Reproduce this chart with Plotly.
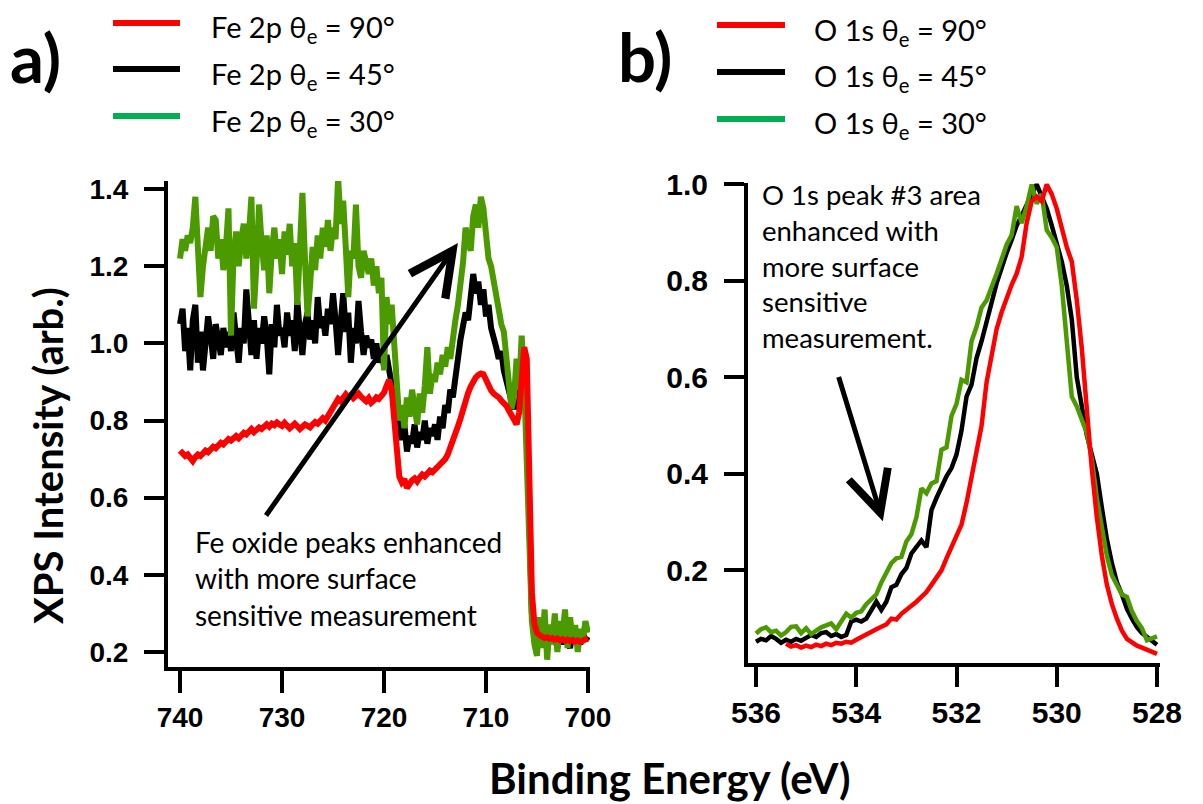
import plotly.graph_objects as go

W, H = 1203, 804

# ---------------- Panel a: Fe 2p (740 -> 700 eV, 0.25 eV step) ----------------
fe_start, fe_step = 740.0, 0.25
fe_90 = [
    0.722, 0.715, 0.708, 0.712, 0.700, 0.695, 0.705, 0.712, 0.708, 0.716, 0.722, 0.718, 0.726, 0.732, 0.728, 0.735, 0.742, 0.738, 0.746, 0.752,
    0.748, 0.755, 0.760, 0.754, 0.762, 0.768, 0.764, 0.772, 0.778, 0.770, 0.776, 0.782, 0.778, 0.786, 0.790, 0.784, 0.792, 0.788, 0.795, 0.790,
    0.786, 0.794, 0.788, 0.780, 0.786, 0.792, 0.785, 0.778, 0.784, 0.790, 0.786, 0.782, 0.790, 0.796, 0.792, 0.800, 0.806, 0.800, 0.812, 0.826,
    0.840, 0.848, 0.856, 0.850, 0.862, 0.868, 0.860, 0.866, 0.858, 0.864, 0.870, 0.862, 0.856, 0.850, 0.858, 0.846, 0.852, 0.860, 0.856, 0.866,
    0.872, 0.890, 0.905, 0.880, 0.800, 0.700, 0.655, 0.640, 0.648, 0.625, 0.638, 0.645, 0.650, 0.642, 0.652, 0.660, 0.655, 0.664, 0.670, 0.666,
    0.672, 0.678, 0.685, 0.692, 0.700, 0.712, 0.728, 0.745, 0.765, 0.785, 0.805, 0.830, 0.852, 0.872, 0.888, 0.905, 0.912, 0.918, 0.922, 0.920,
    0.905, 0.890, 0.878, 0.870, 0.866, 0.860, 0.852, 0.846, 0.838, 0.826, 0.812, 0.798, 0.790, 0.820, 0.900, 0.990, 0.960, 0.600, 0.355, 0.272,
    0.250, 0.244, 0.240, 0.236, 0.238, 0.234, 0.236, 0.232, 0.235, 0.230, 0.233, 0.229, 0.232, 0.228, 0.231, 0.227, 0.230, 0.226, 0.229, 0.232,
    0.236,
]
fe_45 = [
    1.05, 1.09, 0.98, 1.04, 0.93, 1.06, 1.10, 0.95, 1.03, 0.93, 1.00, 1.07, 1.02, 0.96, 1.05, 1.01, 0.97, 1.04, 0.99, 1.03,
    0.98, 1.08, 1.01, 0.95, 1.04, 1.00, 1.14, 1.03, 0.97, 1.06, 0.96, 1.04, 1.00, 1.07, 1.02, 0.92, 1.05, 0.99, 1.10, 1.02,
    1.04, 0.99, 1.08, 1.02, 1.06, 0.98, 1.11, 1.03, 0.97, 1.05, 1.08, 1.01, 1.06, 1.00, 1.12, 1.04, 1.07, 1.02, 1.09, 1.05,
    1.13, 1.06, 0.97, 1.05, 1.13, 1.03, 1.08, 0.95, 1.04, 1.00, 1.11, 1.03, 0.97, 1.02, 0.99, 1.01, 0.96, 1.00, 0.95, 0.98,
    0.94, 0.97, 0.93, 0.90, 0.84, 0.80, 0.78, 0.75, 0.79, 0.72, 0.76, 0.74, 0.79, 0.73, 0.77, 0.75, 0.80, 0.74, 0.78, 0.76,
    0.79, 0.75, 0.81, 0.78, 0.84, 0.82, 0.88, 0.86, 0.93, 0.96, 1.01, 1.04, 1.08, 1.06, 1.12, 1.18, 1.13, 1.16, 1.10, 1.14,
    1.07, 1.10, 1.04, 1.02, 0.99, 0.96, 0.98, 0.93, 0.90, 0.87, 0.85, 0.83, 0.85, 0.88, 0.94, 0.96, 0.80, 0.50, 0.30, 0.25,
    0.23, 0.26, 0.22, 0.25, 0.21, 0.27, 0.23, 0.24, 0.21, 0.26, 0.22, 0.25, 0.23, 0.21, 0.26, 0.23, 0.24, 0.22, 0.25, 0.23,
    0.24,
]
fe_30 = [
    1.22, 1.27, 1.24, 1.28, 1.26, 1.30, 1.38, 1.21, 1.12, 1.20, 1.26, 1.30, 1.24, 1.33, 1.32, 1.22, 1.27, 1.19, 1.25, 1.35,
    1.02, 1.23, 1.29, 1.20, 1.27, 1.31, 1.22, 1.28, 1.38, 1.09, 1.21, 1.36, 1.26, 1.19, 1.28, 1.13, 1.24, 1.30, 1.22, 1.27,
    1.18, 1.29, 1.23, 1.31, 1.20, 1.26, 1.10, 1.24, 1.39, 1.22, 1.07, 1.15, 1.25, 1.19, 1.28, 1.22, 1.30, 1.25, 1.32, 1.24,
    1.30, 1.27, 1.43, 1.31, 1.37, 1.25, 1.12, 1.24, 1.22, 1.36, 1.20, 1.17, 1.24, 1.21, 1.18, 1.22, 1.15, 1.20, 1.13, 1.17,
    0.93, 1.12, 1.05, 1.10, 0.98, 0.86, 0.80, 0.84, 0.78, 0.86, 0.81, 0.88, 0.83, 0.79, 0.87, 0.82, 0.89, 0.99, 0.87, 0.92,
    0.90, 0.95, 0.92, 0.97, 0.94, 0.99, 0.96, 1.03, 1.06, 1.10, 1.15, 1.21, 1.30, 1.26, 1.24, 1.33, 1.36, 1.30, 1.38, 1.35,
    1.26, 1.22, 1.20, 1.16, 1.13, 1.08, 1.05, 1.03, 0.95, 0.90, 0.83, 0.86, 0.96, 0.88, 1.02, 0.90, 0.70, 0.45, 0.28, 0.22,
    0.19, 0.29, 0.21, 0.31, 0.18, 0.27, 0.22, 0.30, 0.20, 0.28, 0.24, 0.31, 0.21, 0.29, 0.23, 0.27, 0.20, 0.26, 0.23, 0.28,
    0.25,
]
fe_energy = [round(fe_start - fe_step * i, 2) for i in range(len(fe_90))]
fe_xticks = [740, 730, 720, 710, 700]
fe_yticks = [0.2, 0.4, 0.6, 0.8, 1.0, 1.2, 1.4]

# ---------------- Panel b: O 1s (0.1 eV step) ----------------
o_step = 0.1
o_90_start = 535.4
o_90 = [
    0.048, 0.042, 0.045, 0.040, 0.044, 0.041, 0.046, 0.043, 0.048, 0.045,
    0.050, 0.048, 0.052, 0.050, 0.056, 0.062, 0.066, 0.072, 0.078, 0.083,
    0.088, 0.100, 0.098, 0.110, 0.118, 0.128, 0.135, 0.145, 0.155, 0.170,
    0.185, 0.200, 0.225, 0.250, 0.275, 0.295, 0.340, 0.390, 0.440, 0.500,
    0.590, 0.650, 0.700, 0.735, 0.765, 0.792, 0.815, 0.850, 0.920, 0.965,
    0.975, 0.965, 1.000, 0.980, 0.950, 0.910, 0.870, 0.840, 0.760, 0.660,
    0.530, 0.410, 0.310, 0.230, 0.170, 0.130, 0.100, 0.075, 0.058, 0.050,
    0.044, 0.040, 0.036, 0.032, 0.027,
]
o_45_start = 536.0
o_45 = [
    0.052, 0.058, 0.055, 0.064, 0.058, 0.050, 0.056, 0.052, 0.058, 0.054,
    0.060, 0.066, 0.062, 0.070, 0.072, 0.064, 0.068, 0.062, 0.066, 0.094,
    0.098, 0.094, 0.100, 0.118, 0.135, 0.118, 0.135, 0.165, 0.170, 0.192,
    0.205, 0.235, 0.250, 0.262, 0.248, 0.325, 0.350, 0.375, 0.395, 0.412,
    0.440, 0.490, 0.560, 0.585, 0.640, 0.675, 0.720, 0.755, 0.795, 0.830,
    0.858, 0.885, 0.915, 0.935, 0.960, 0.980, 1.000, 0.975, 0.950, 0.915,
    0.880, 0.840, 0.790, 0.720, 0.600, 0.540, 0.480, 0.440, 0.400, 0.330,
    0.265, 0.215, 0.175, 0.150, 0.120, 0.100, 0.082, 0.070, 0.062, 0.054,
    0.046,
]
o_30_start = 536.0
o_30 = [
    0.069, 0.078, 0.082, 0.072, 0.075, 0.065, 0.072, 0.083, 0.084, 0.070,
    0.080, 0.068, 0.075, 0.082, 0.086, 0.090, 0.078, 0.095, 0.110, 0.102,
    0.112, 0.115, 0.130, 0.140, 0.150, 0.175, 0.195, 0.215, 0.225, 0.228,
    0.260, 0.275, 0.310, 0.370, 0.360, 0.380, 0.385, 0.450, 0.455, 0.520,
    0.545, 0.595, 0.590, 0.675, 0.705, 0.745, 0.760, 0.785, 0.815, 0.845,
    0.875, 0.895, 0.955, 0.920, 0.955, 1.000, 0.960, 0.980, 0.905, 0.890,
    0.870, 0.790, 0.680, 0.560, 0.540, 0.515, 0.485, 0.430, 0.350, 0.290,
    0.230, 0.190, 0.170, 0.150, 0.145, 0.115, 0.095, 0.080, 0.055, 0.060,
    0.063,
]
o_90_energy = [round(o_90_start - o_step * i, 2) for i in range(len(o_90))]
o_45_energy = [round(o_45_start - o_step * i, 2) for i in range(len(o_45))]
o_30_energy = [round(o_30_start - o_step * i, 2) for i in range(len(o_30))]
o_xticks = [536, 534, 532, 530, 528]
o_yticks = [0.2, 0.4, 0.6, 0.8, 1.0]

fe_labels = ["Fe 2p θ<sub>e</sub> = 90°", "Fe 2p θ<sub>e</sub> = 45°", "Fe 2p θ<sub>e</sub> = 30°"]
o_labels = ["O 1s θ<sub>e</sub> = 90°", "O 1s θ<sub>e</sub> = 45°", "O 1s θ<sub>e</sub> = 30°"]

RED, BLACK, GREEN, LEG_GREEN = "#ff0000", "#000000", "#4a9a00", "#00b050"

fig = go.Figure()
# draw order: black, green, red (red on top)
for vals, col in [(fe_45, BLACK), (fe_30, GREEN), (fe_90, RED)]:
    fig.add_trace(go.Scatter(x=fe_energy, y=vals, mode="lines", xaxis="x", yaxis="y",
                             line=dict(color=col, width=6), showlegend=False, hoverinfo="skip"))
for xs, vals, col in [(o_45_energy, o_45, BLACK), (o_30_energy, o_30, GREEN), (o_90_energy, o_90, RED)]:
    fig.add_trace(go.Scatter(x=xs, y=vals, mode="lines", xaxis="x2", yaxis="y2",
                             line=dict(color=col, width=4.5), showlegend=False, hoverinfo="skip"))

tickfont_a = dict(family="Liberation Sans, Arial, sans-serif", size=28, color="black", weight="bold")
tickfont_b = dict(family="Liberation Sans, Arial, sans-serif", size=30, color="black", weight="bold")
axis_common = dict(showline=True, linewidth=4, linecolor="black", ticks="outside", tickwidth=4,
                   tickcolor="black", showgrid=False, zeroline=False, mirror=False, automargin=False)

fig.update_layout(
    width=W, height=H, margin=dict(l=0, r=0, t=0, b=0, autoexpand=False),
    paper_bgcolor="white", plot_bgcolor="white", showlegend=False,
    xaxis=dict(domain=[168 / W, 590 / W], range=[741.18, 699.8], anchor="y",
               tickvals=fe_xticks, ticklen=22, tickfont=tickfont_a, ticklabelstandoff=0, **axis_common),
    yaxis=dict(domain=[1 - 667 / H, 1 - 181 / H], range=[0.161, 1.421], anchor="x",
               tickvals=fe_yticks, tickformat=".1f", ticklen=20, tickfont=tickfont_a, ticklabelstandoff=10,
               **axis_common),
    xaxis2=dict(domain=[748 / W, 1160 / W], range=[536.16, 527.94], anchor="y2",
                tickvals=o_xticks, ticklen=20, tickfont=tickfont_b, ticklabelstandoff=0, **axis_common),
    yaxis2=dict(domain=[1 - 663 / H, 1 - 183 / H], range=[0.008, 1.003], anchor="x2",
                tickvals=o_yticks, tickformat=".1f", ticklen=20, tickfont=tickfont_b, ticklabelstandoff=10,
                **axis_common),
)

LATO = "Lato, Carlito, Open Sans, sans-serif"

# panel letters
fig.add_annotation(text="<b>a)</b>", x=35 / W, y=1 - 57 / H, xref="paper", yref="paper",
                   showarrow=False, xanchor="center", yanchor="middle",
                   font=dict(family=LATO, size=67, color="black"))
fig.add_annotation(text="<b>b)</b>", x=645 / W, y=1 - 56 / H, xref="paper", yref="paper",
                   showarrow=False, xanchor="center", yanchor="middle",
                   font=dict(family=LATO, size=67, color="black"))

# hand-made legends
leg_cols = [RED, BLACK, LEG_GREEN]
fe_leg_y = [23, 69, 116]
o_leg_y = [25, 72, 119]
for lab, col, ly in zip(fe_labels, leg_cols, fe_leg_y):
    fig.add_shape(type="line", xref="paper", yref="paper", x0=113 / W, x1=180 / W,
                  y0=1 - ly / H, y1=1 - ly / H, line=dict(color=col, width=6))
    fig.add_annotation(text=lab, x=209 / W, y=1 - (ly + 6) / H, xref="paper", yref="paper",
                       showarrow=False, xanchor="left", yanchor="middle",
                       font=dict(family=LATO, size=29, color="black"))
for lab, col, ly in zip(o_labels, leg_cols, o_leg_y):
    fig.add_shape(type="line", xref="paper", yref="paper", x0=717 / W, x1=785 / W,
                  y0=1 - ly / H, y1=1 - ly / H, line=dict(color=col, width=6))
    fig.add_annotation(text=lab, x=812 / W, y=1 - (ly + 6) / H, xref="paper", yref="paper",
                       showarrow=False, xanchor="left", yanchor="middle",
                       font=dict(family=LATO, size=29, color="black"))

# axis titles
fig.add_annotation(text="<b>XPS Intensity (arb.)</b>", x=48 / W, y=1 - 456 / H, xref="paper", yref="paper",
                   showarrow=False, textangle=-90, xanchor="center", yanchor="middle",
                   font=dict(family=LATO, size=40, color="black"))
fig.add_annotation(text="<b>Binding Energy (eV)</b>", x=669 / W, y=1 - 778 / H, xref="paper", yref="paper",
                   showarrow=False, xanchor="center", yanchor="middle",
                   font=dict(family=LATO, size=42, color="black"))

# notes
fig.add_annotation(text="Fe oxide peaks enhanced<br>with more surface<br>sensitive measurement",
                   x=193 / W, y=1 - 578 / H, xref="paper", yref="paper", showarrow=False,
                   xanchor="left", yanchor="middle", align="left",
                   font=dict(family=LATO, size=28, color="black"))
fig.add_annotation(text="O 1s peak #3 area<br>enhanced with<br>more surface<br>sensitive<br>measurement.",
                   x=760 / W, y=1 - 266 / H, xref="paper", yref="paper", showarrow=False,
                   xanchor="left", yanchor="middle", align="left",
                   font=dict(family=LATO, size=27.5, color="black"))

# arrows
fig.add_annotation(text="", x=712.75, y=1.26, ax=731.67, ay=0.55, xref="x", yref="y", axref="x", ayref="y",
                   showarrow=True, arrowhead=5, arrowwidth=5, arrowsize=1.7, arrowcolor="black", standoff=0)
fig.add_annotation(text="", x=533.47, y=0.302, ax=534.36, ay=0.604, xref="x2", yref="y2", axref="x2", ayref="y2",
                   showarrow=True, arrowhead=5, arrowwidth=5, arrowsize=1.6, arrowcolor="black", standoff=0)

fig.write_html("out.html")
